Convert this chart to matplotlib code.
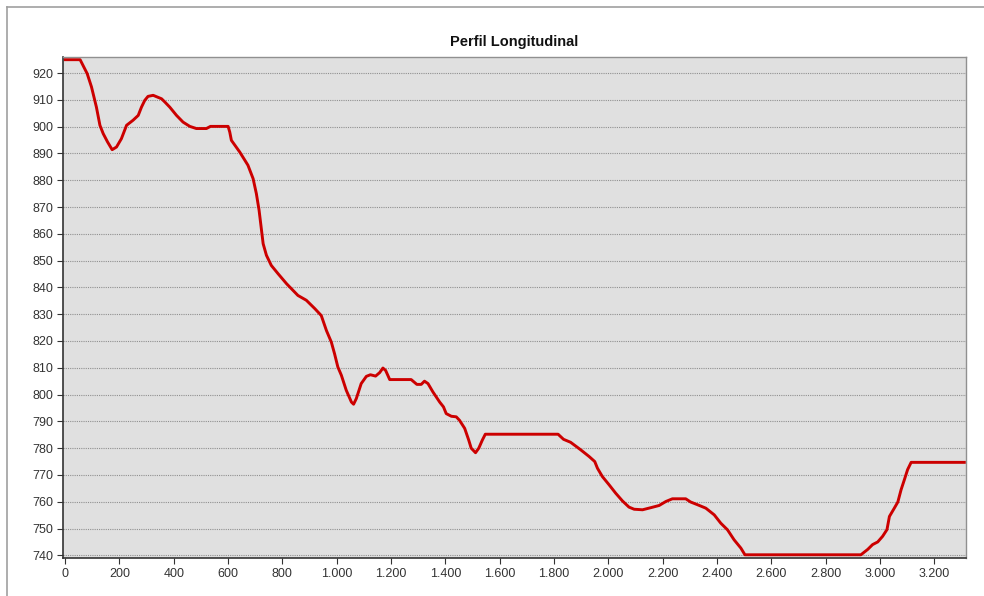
import matplotlib
matplotlib.use("Agg")
import matplotlib.pyplot as plt
from matplotlib.ticker import FuncFormatter
from matplotlib.lines import Line2D

plt.rcParams['font.family'] = ['Liberation Sans', 'DejaVu Sans']

title = "Perfil Longitudinal"

distance = [0, 55, 81, 97, 115, 128, 140, 156, 173, 189, 207, 226, 250, 269, 281, 293,
            305, 324, 355, 367, 385, 410, 434, 459, 483, 520, 535, 600, 606, 612, 643,
            673, 692, 704, 714, 723, 729, 741, 759, 784, 815, 857, 888, 919, 943, 962,
            980, 992, 1004, 1017, 1035, 1054, 1062, 1072, 1090, 1109, 1124, 1143, 1158,
            1170, 1180, 1195, 1274, 1295, 1311, 1323, 1336, 1354, 1379, 1393, 1403, 1422,
            1440, 1452, 1471, 1486, 1495, 1511, 1523, 1536, 1547, 1815, 1835, 1861, 1898,
            1929, 1950, 1960, 1978, 2003, 2027, 2052, 2076, 2095, 2126, 2157, 2187, 2212,
            2236, 2285, 2303, 2328, 2359, 2390, 2414, 2439, 2463, 2488, 2503, 2930, 2955,
            2973, 2992, 3010, 3026, 3035, 3053, 3066, 3078, 3090, 3102, 3115, 3311]

elevation = [925, 925, 919.8, 914.8, 907.3, 900.5, 897.4, 894.3, 891.4, 892.4, 895.5, 900.5,
             902.4, 904.2, 907.3, 909.8, 911.3, 911.7, 910.4, 909.2, 907.3, 904.2, 901.7,
             900.1, 899.3, 899.3, 900.1, 900.1, 898, 894.9, 890.5, 885.6, 880.6, 875, 868.8,
             861.3, 856.3, 852, 848.2, 845.1, 841.4, 837, 835.2, 832.1, 829.5, 823.9, 819.6,
             815.2, 810.3, 807.2, 801.6, 797.2, 796.4, 798.5, 804.1, 806.8, 807.4, 806.9,
             808.2, 809.9, 809, 805.6, 805.6, 803.8, 803.8, 805, 804.1, 801, 797.2, 795.4,
             792.9, 791.9, 791.7, 790.4, 787.4, 783, 780, 778.3, 780, 783, 785.2, 785.2,
             783.3, 782.2, 779.4, 776.9, 775, 772.5, 769.4, 766.3, 763.2, 760.3, 758, 757.2,
             757, 757.8, 758.6, 760.1, 761.1, 761.1, 759.9, 758.9, 757.6, 755.1, 752, 749.5,
             745.8, 742.7, 740.2, 740.2, 742.2, 744, 745, 747.1, 749.6, 754.5, 757.6, 759.9,
             764.5, 768.2, 772, 774.7, 774.7]

x_ticks = list(range(0, 3201, 200))
y_ticks = list(range(740, 921, 10))

W, H = 984, 596
fig = plt.figure(figsize=(W / 100, H / 100), dpi=100)
fig.patch.set_facecolor('white')

# outer frame lines (top and left)
fig.add_artist(Line2D([7 / W, 1], [1 - 7 / H, 1 - 7 / H], color='#a0a0a0', lw=1.2,
                      transform=fig.transFigure))
fig.add_artist(Line2D([7 / W, 7 / W], [0, 1 - 7 / H], color='#a0a0a0', lw=1.2,
                      transform=fig.transFigure))

left, right, top, bottom = 63, 966, 57, 558
ax = fig.add_axes([left / W, 1 - bottom / H, (right - left) / W, (bottom - top) / H])
ax.set_facecolor('#e0e0e0')

ax.plot(distance, elevation, color='#cc0000', lw=2.1, solid_joinstyle='round')

ax.set_xlim(-8, 3317)
ax.set_ylim(739, 926)
ax.set_xticks(x_ticks)
ax.set_yticks(y_ticks)
ax.xaxis.set_major_formatter(FuncFormatter(lambda v, p: f"{int(v):,}".replace(",", ".")))
ax.yaxis.grid(True, linestyle=(0, (1, 1)), color='#909090', lw=0.8)
ax.set_axisbelow(True)

ax.tick_params(axis='both', labelsize=9, colors='#333333', length=4, width=0.8, pad=3)
for s in ['top', 'right']:
    ax.spines[s].set_color('#909090')
    ax.spines[s].set_linewidth(1.0)
for s in ['left', 'bottom']:
    ax.spines[s].set_color('#333333')
    ax.spines[s].set_linewidth(1.2)

ax.set_title(title, fontsize=10.5, fontweight='bold', pad=8, color='#111111')

fig.savefig('out.png', dpi=100, facecolor='white')
